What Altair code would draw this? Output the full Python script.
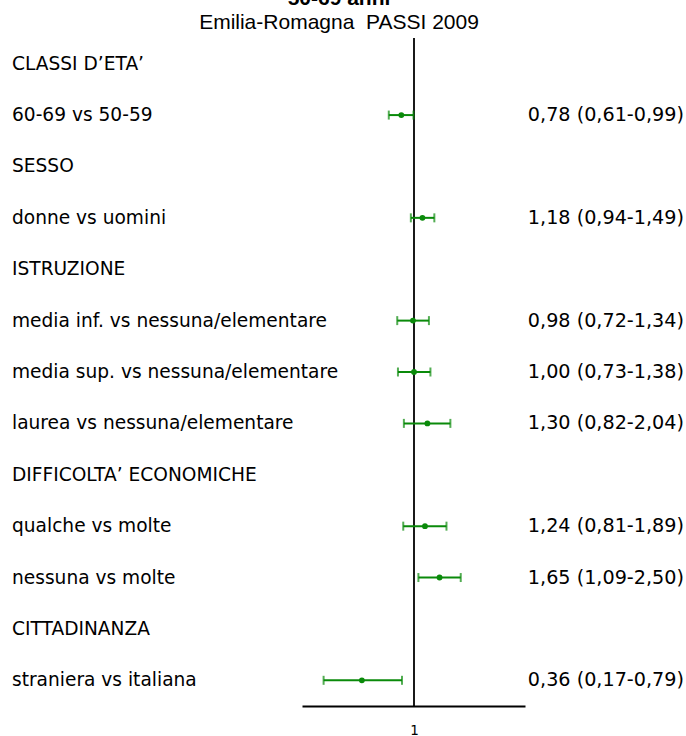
import altair as alt
import pandas as pd

# ---- data -------------------------------------------------------------
title_main = "50-69 anni"
title_sub = "Emilia-Romagna\u00a0 PASSI 2009"

row_labels = [
    "CLASSI D’ETA’",
    "60-69 vs 50-59",
    "SESSO",
    "donne vs uomini",
    "ISTRUZIONE",
    "media inf. vs nessuna/elementare",
    "media sup. vs nessuna/elementare",
    "laurea vs nessuna/elementare",
    "DIFFICOLTA’ ECONOMICHE",
    "qualche vs molte",
    "nessuna vs molte",
    "CITTADINANZA",
    "straniera vs italiana",
]

est_labels = [
    "60-69 vs 50-59",
    "donne vs uomini",
    "media inf. vs nessuna/elementare",
    "media sup. vs nessuna/elementare",
    "laurea vs nessuna/elementare",
    "qualche vs molte",
    "nessuna vs molte",
    "straniera vs italiana",
]
odds_ratio = [0.78, 1.18, 0.98, 1.00, 1.30, 1.24, 1.65, 0.36]
ci_low = [0.61, 0.94, 0.72, 0.73, 0.82, 0.81, 1.09, 0.17]
ci_high = [0.99, 1.49, 1.34, 1.38, 2.04, 1.89, 2.50, 0.79]
ref_value = [1]


def it(v):
    return f"{v:.2f}".replace(".", ",")


rows_df = pd.DataFrame({"label": row_labels})
est_df = pd.DataFrame({
    "label": est_labels,
    "or": odds_ratio,
    "lo": ci_low,
    "hi": ci_high,
})
est_df["txt"] = [f"{it(o)} ({it(l)}-{it(h)})" for o, l, h in zip(odds_ratio, ci_low, ci_high)]

# ---- layout ------------------------------------------------------------
PAD_L, PAD_T, PAD_R, PAD_B = 302, 38, 161, 30
W, H = 223, 668
GREEN = "#0a8a0a"
FONT = "DejaVu Sans"

xscale = alt.Scale(type="log", domain=[0.1113, 8.81], nice=False, zero=False)
yenc = alt.Y("label:N", sort=row_labels,
             scale=alt.Scale(type="point", padding=0.5), axis=None)

base_est = alt.Chart(est_df)

ref_rule = alt.Chart(pd.DataFrame({"v": ref_value})).mark_rule(
    color="black", strokeWidth=1.8
).encode(
    x=alt.X("v:Q", scale=xscale,
            axis=alt.Axis(values=[1], title=None, ticks=False, grid=False,
                          domainColor="black", domainWidth=1.8,
                          labelFont=FONT, labelFontSize=13.5,
                          labelColor="black", labelPadding=17,
                          labelExpr="'1'"))
)

ci_rule = base_est.mark_rule(color=GREEN, strokeWidth=2).encode(
    x=alt.X("lo:Q", scale=xscale), x2="hi:Q", y=yenc
)
cap_lo = base_est.mark_tick(color=GREEN, thickness=2, size=9, orient="vertical").encode(
    x=alt.X("lo:Q", scale=xscale), y=yenc
)
cap_hi = base_est.mark_tick(color=GREEN, thickness=2, size=9, orient="vertical").encode(
    x=alt.X("hi:Q", scale=xscale), y=yenc
)
pts = base_est.mark_point(color=GREEN, filled=True, opacity=1, size=34, shape="circle").encode(
    x=alt.X("or:Q", scale=xscale), y=yenc
)

left_text = alt.Chart(rows_df).mark_text(
    align="left", baseline="middle", font=FONT, fontSize=18.6, color="black"
).encode(x=alt.value(12 - PAD_L), y=yenc, text="label:N")

right_text = base_est.mark_text(
    align="right", baseline="middle", font=FONT, fontSize=19.2, color="black"
).encode(x=alt.value(684 - PAD_L), y=yenc, text="txt:N")

t_main = alt.Chart(pd.DataFrame({"t": [title_main]})).mark_text(
    align="center", baseline="alphabetic", font="Liberation Sans",
    fontSize=21, fontWeight="bold", color="black"
).encode(x=alt.value(339 - PAD_L), y=alt.value(5 - PAD_T), text="t:N")

t_sub = alt.Chart(pd.DataFrame({"t": [title_sub]})).mark_text(
    align="center", baseline="alphabetic", font="Liberation Sans",
    fontSize=21, color="black"
).encode(x=alt.value(339 - PAD_L), y=alt.value(29 - PAD_T), text="t:N")

chart = alt.layer(
    ref_rule, ci_rule, cap_lo, cap_hi, pts, left_text, right_text, t_main, t_sub
).properties(
    width=W, height=H,
    autosize=alt.AutoSizeParams(type="none"),
    padding={"left": PAD_L, "top": PAD_T, "right": PAD_R, "bottom": PAD_B},
    background="white",
).configure_view(stroke=None)

chart.save("out.html", embed_options={"renderer": "svg", "actions": False})
